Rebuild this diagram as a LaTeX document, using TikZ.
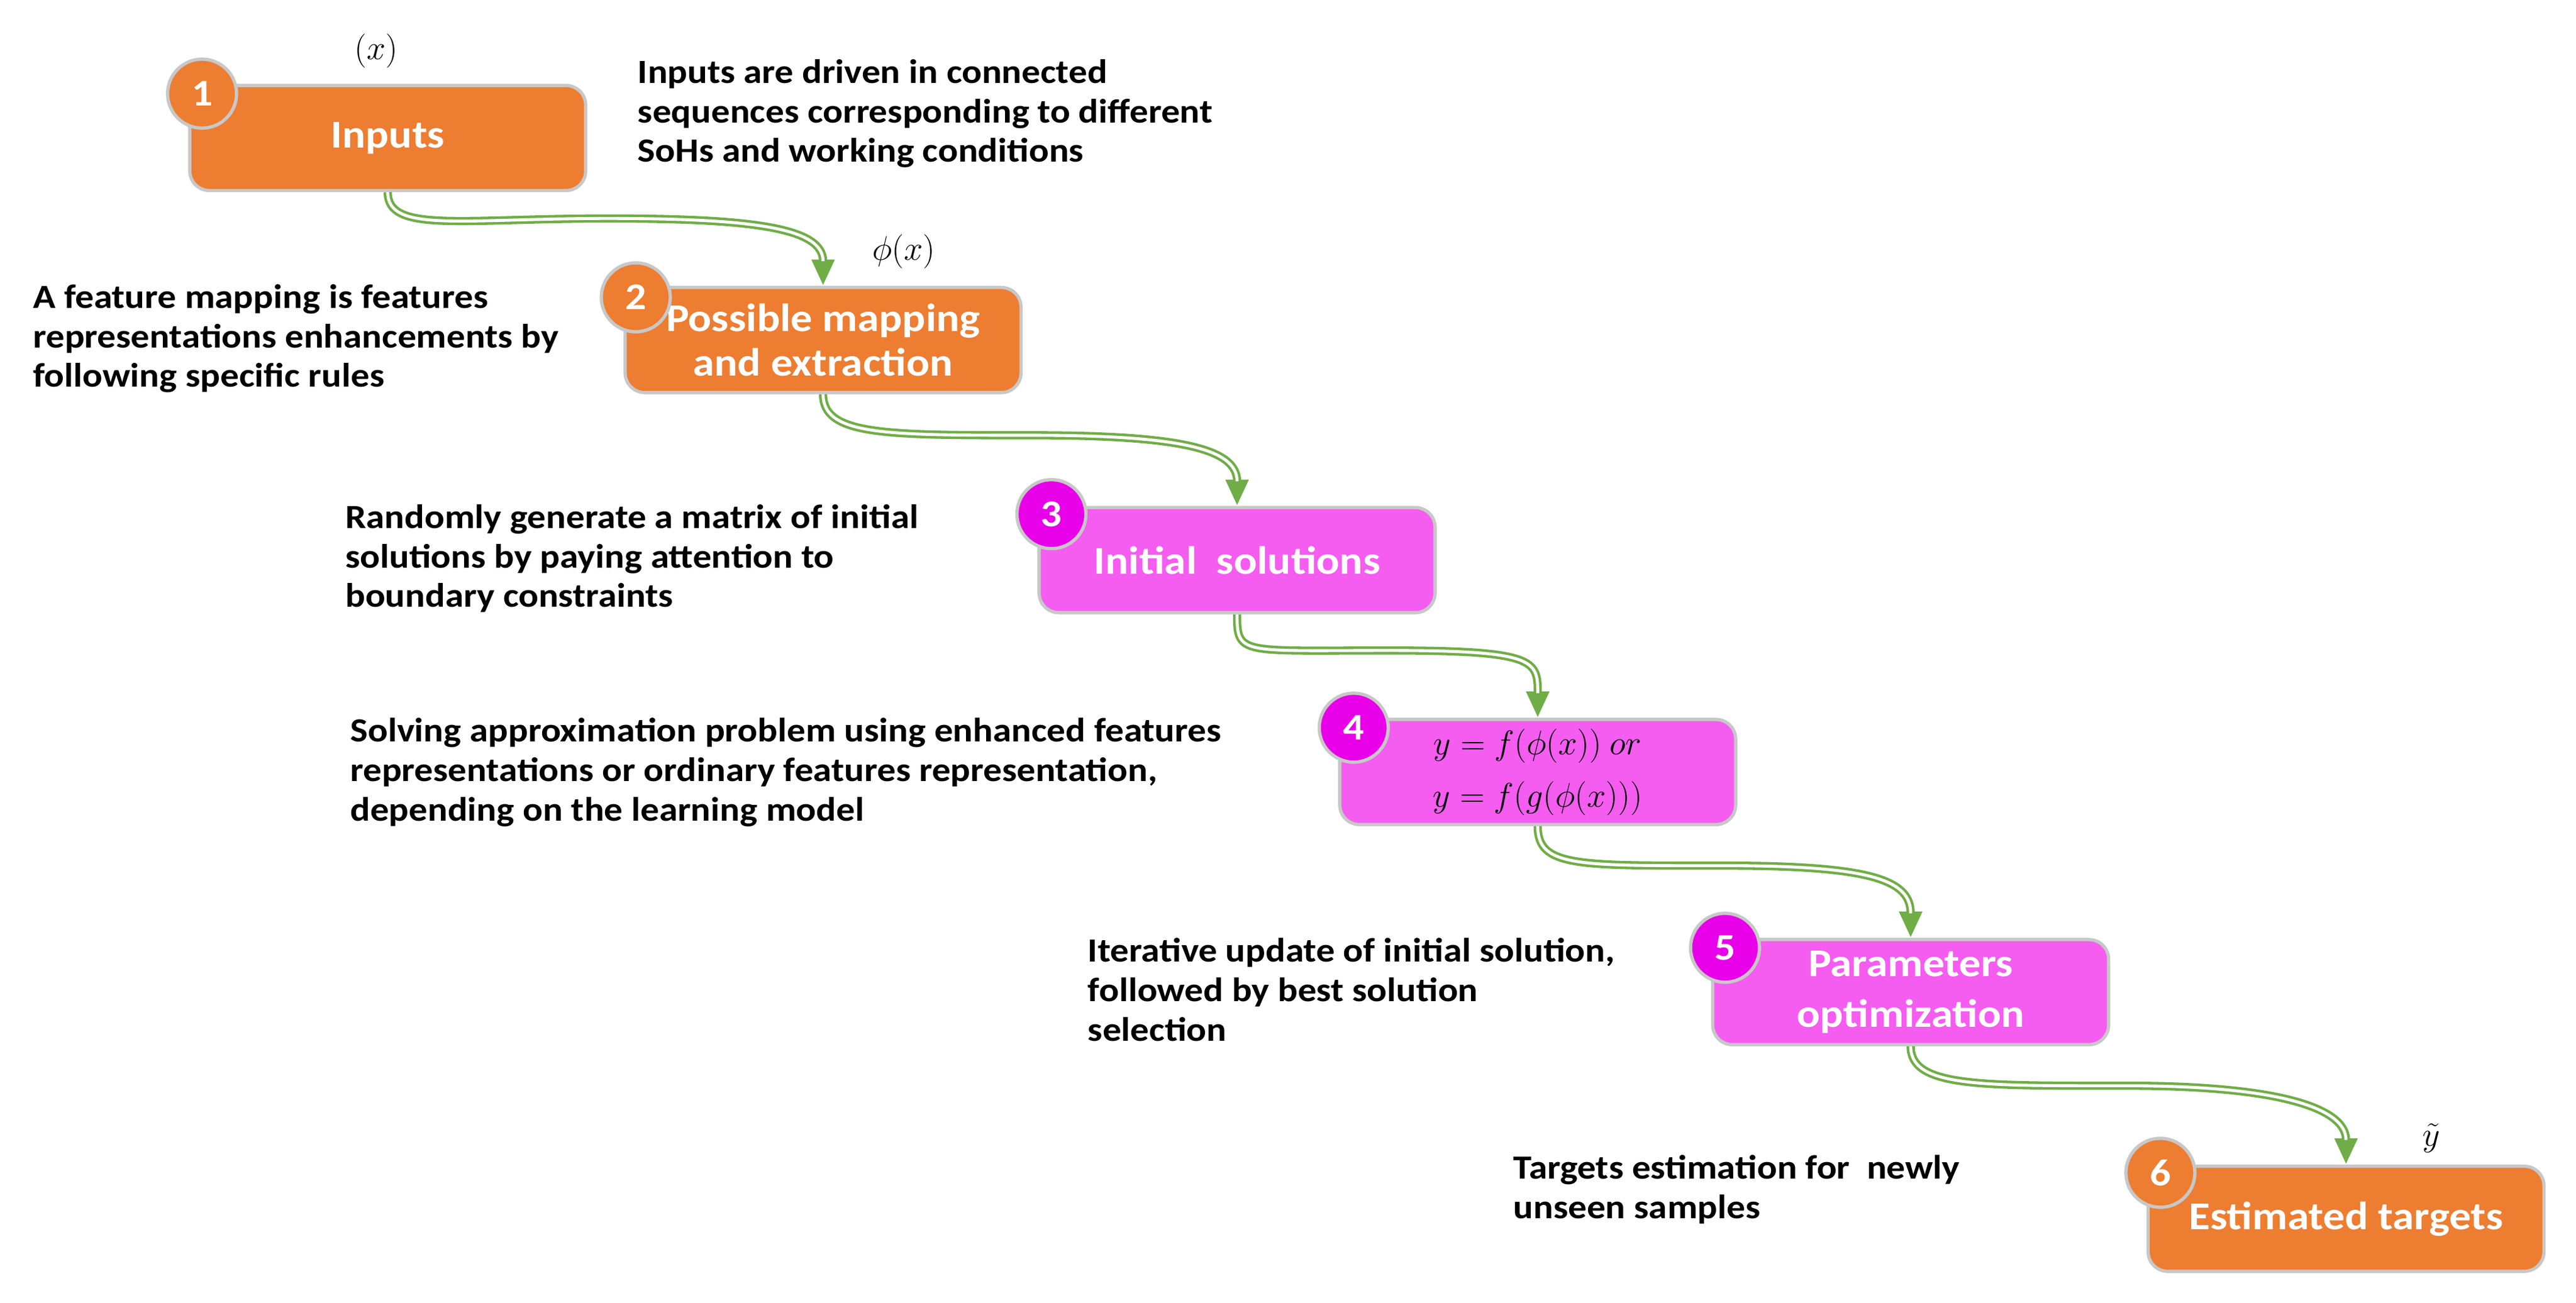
\documentclass[tikz,border=0pt]{standalone}
\usepackage{fontspec}
\setmainfont{Carlito}[FakeStretch=1.1]
\usetikzlibrary{arrows.meta}
\definecolor{org}{HTML}{ED7D31}
\definecolor{mbox}{HTML}{F55CF0}
\definecolor{mcir}{HTML}{E800E8}
\definecolor{grn}{HTML}{70AD47}
\definecolor{bord}{HTML}{C8C8C8}
\newcommand\myconn[3]{%
 \draw[grn,line width=5pt,-{Triangle[length=16pt,width=13pt]}] (#1.south) .. controls +(0,25) and +(-90,0) .. (#2) .. controls +(90,0) and +(0,-35) .. (#3.north);
 \draw[white,line width=1.8pt,shorten >=15pt] (#1.south) .. controls +(0,25) and +(-90,0) .. (#2) .. controls +(90,0) and +(0,-35) .. (#3.north);}
\begin{document}
\begin{tikzpicture}[x=1pt,y=-1pt,
 box/.style={draw=bord,line width=2pt,rounded corners=12pt,minimum width=241pt,minimum height=64pt,text=white,font=\fontsize{24}{27}\selectfont\bfseries,align=center,inner sep=0pt},
 ob/.style={box,fill=org}, mb/.style={box,fill=mbox},
 cir/.style={circle,draw=bord,line width=2pt,minimum size=42pt,inner sep=0pt,text=white,font=\fontsize{23}{24}\selectfont\bfseries},
 oc/.style={cir,fill=org}, mc/.style={cir,fill=mcir},
 desc/.style={anchor=north west,align=left,font=\fontsize{20.6}{24}\selectfont\bfseries,inner sep=0pt},
 mth/.style={font=\fontsize{22}{24}\selectfont}]
\useasboundingbox (0,0) rectangle (1568,793);
\node[ob] (b1) at (236,84) {Inputs};
\node[oc] (c1) at (123,57) {1};
\node[mth] (l1) at (229,31) {$(x)$};
\node[desc] (t1) at (388,36) {Inputs are driven in connected\\sequences corresponding to different\\SoHs and working conditions};
\node[ob] (b2) at (501,207) {Possible mapping\\and extraction};
\node[oc] (c2) at (387,181) {2};
\node[mth] (l2) at (550,153) {$\phi(x)$};
\node[desc] (t2) at (20,173) {A feature mapping is features\\representations enhancements by\\following specific rules};
\node[mb] (b3) at (753,341) {Initial\ \ solutions};
\node[mc] (c3) at (640,313) {3};
\node[desc] (t3) at (210,307) {Randomly generate a matrix of initial\\solutions by paying attention to\\boundary constraints};
\node[mb,font=\fontsize{20}{32}\selectfont,text=black] (b4) at (936,470) {$y=f(\phi(x))\ or$\\$y=f(g(\phi(x)))$};
\node[mc] (c4) at (824,443) {4};
\node[desc] (t4) at (213,437) {Solving approximation problem using enhanced features\\representations or ordinary features representation,\\depending on the learning model};
\node[mb,font=\fontsize{24}{31}\selectfont\bfseries] (b5) at (1163,604) {Parameters\\optimization};
\node[mc] (c5) at (1050,577) {5};
\node[desc] (t5) at (662,571) {Iterative update of initial solution,\\followed by best solution\\selection};
\node[ob] (b6) at (1428,742) {Estimated targets};
\node[oc] (c6) at (1315,714) {6};
\node[mth] (l6) at (1480,693) {$\tilde{y}$};
\node[desc] (t6) at (921,703) {Targets estimation for\ \ newly\\unseen samples};
\coordinate (m1) at (370,133);
\coordinate (m2) at (628,265);
\coordinate (m3) at (845,396);
\coordinate (m4) at (1050,527);
\coordinate (m5) at (1295,661);
\myconn{b1}{m1}{b2}
\myconn{b2}{m2}{b3}
\myconn{b3}{m3}{b4}
\myconn{b4}{m4}{b5}
\myconn{b5}{m5}{b6}
\end{tikzpicture}
\end{document}
